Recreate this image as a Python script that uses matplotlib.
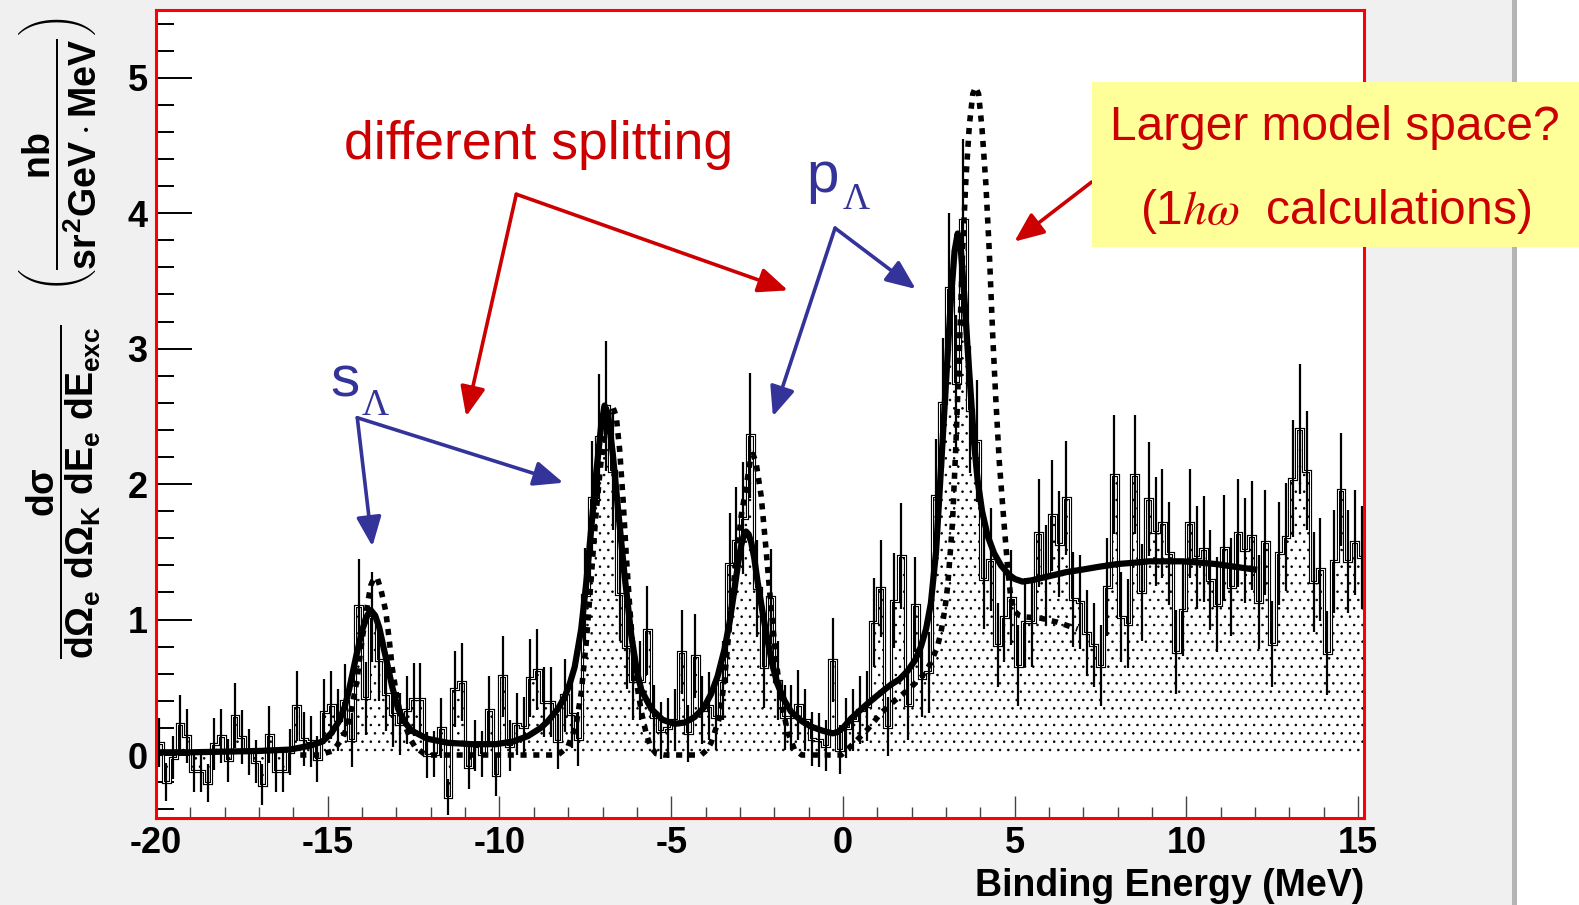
import numpy as np
import matplotlib
matplotlib.use("Agg")
import matplotlib.pyplot as plt
from matplotlib.patches import Rectangle
from matplotlib.ticker import MultipleLocator

plt.rcParams['font.family'] = ['Liberation Sans', 'DejaVu Sans']
plt.rcParams['axes.unicode_minus'] = False
plt.rcParams['mathtext.fontset'] = 'custom'
plt.rcParams['mathtext.rm'] = 'Liberation Sans:bold'
plt.rcParams['mathtext.it'] = 'Liberation Sans:bold'
plt.rcParams['mathtext.bf'] = 'Liberation Sans:bold'
plt.rcParams['hatch.color'] = 'black'
plt.rcParams['hatch.linewidth'] = 0.6

# histogram: 0.2 MeV bins starting at -20 MeV
bin_lo = -20.0
bin_width = 0.2
counts = [
    0.09, -0.20, -0.02, 0.23, 0.14, -0.12, -0.12, -0.21, 0.08, 0.14,
    -0.04, 0.29, 0.13, 0.02, -0.05, -0.22, 0.15, -0.12, -0.12, 0.02,
    0.36, 0.12, 0.10, -0.03, 0.32, 0.37, 0.26, 0.40, 0.11, 1.10,
    0.42, 1.02, 0.70, 0.45, 0.30, 0.23, 0.33, 0.41, 0.41, 0.00,
    0.01, 0.20, -0.31, 0.49, 0.54, -0.09, 0.07, 0.01, 0.33, -0.15,
    0.58, 0.07, 0.23, 0.21, 0.57, 0.63, 0.39, 0.39, 0.10, 0.44,
    0.30, 0.12, 1.18, 1.90, 2.35, 2.58, 2.10, 1.19, 0.80, 0.55,
    0.55, 0.92, 0.28, 0.18, 0.20, 0.26, 0.76, 0.16, 0.73, 0.33,
    0.36, 0.28, 0.55, 1.41, 1.58, 1.75, 2.36, 1.23, 0.65, 1.17,
    0.55, 0.28, 0.28, 0.37, 0.26, 0.12, 0.11, 0.07, 0.70, 0.04,
    0.20, 0.26, 0.33, 0.36, 0.98, 1.23, 0.21, 1.14, 1.47, 0.37,
    1.11, 0.57, 0.61, 1.91, 2.60, 3.45, 2.75, 3.95, 2.55, 2.32,
    1.30, 1.44, 0.81, 1.02, 1.16, 0.66, 0.98, 0.98, 1.64, 1.33,
    1.77, 1.56, 1.90, 1.15, 1.13, 0.90, 0.81, 0.66, 1.24, 2.07,
    1.02, 0.97, 2.07, 1.20, 1.89, 1.65, 1.71, 1.49, 0.76, 1.07,
    1.71, 1.46, 1.52, 1.29, 1.11, 1.53, 1.24, 1.64, 1.51, 1.62,
    1.13, 1.57, 0.82, 1.49, 1.61, 2.04, 2.41, 2.10, 1.28, 1.37,
    0.75, 1.43, 1.96, 1.43, 1.57, 1.46,
]
errors = [
    0.18, 0.14, 0.16, 0.21, 0.20, 0.15, 0.15, 0.14, 0.19, 0.20,
    0.16, 0.24, 0.20, 0.17, 0.16, 0.15, 0.21, 0.15, 0.15, 0.17,
    0.26, 0.20, 0.19, 0.17, 0.24, 0.25, 0.23, 0.27, 0.20, 0.35,
    0.27, 0.33, 0.30, 0.27, 0.24, 0.23, 0.25, 0.27, 0.27, 0.17,
    0.17, 0.22, 0.13, 0.28, 0.29, 0.16, 0.19, 0.17, 0.25, 0.15,
    0.30, 0.19, 0.23, 0.22, 0.29, 0.30, 0.26, 0.26, 0.20, 0.27,
    0.25, 0.20, 0.35, 0.42, 0.46, 0.48, 0.44, 0.35, 0.31, 0.29,
    0.29, 0.33, 0.24, 0.21, 0.22, 0.23, 0.31, 0.21, 0.31, 0.25,
    0.25, 0.24, 0.29, 0.38, 0.40, 0.41, 0.46, 0.36, 0.30, 0.35,
    0.29, 0.24, 0.24, 0.26, 0.23, 0.20, 0.20, 0.19, 0.31, 0.18,
    0.22, 0.23, 0.25, 0.26, 0.33, 0.36, 0.22, 0.35, 0.39, 0.26,
    0.35, 0.29, 0.30, 0.42, 0.48, 0.55, 0.50, 0.60, 0.47, 0.45,
    0.37, 0.38, 0.31, 0.33, 0.35, 0.30, 0.33, 0.33, 0.40, 0.37,
    0.41, 0.39, 0.42, 0.35, 0.35, 0.32, 0.31, 0.30, 0.36, 0.44,
    0.33, 0.33, 0.44, 0.36, 0.42, 0.40, 0.40, 0.38, 0.31, 0.34,
    0.40, 0.38, 0.39, 0.37, 0.35, 0.39, 0.36, 0.40, 0.39, 0.40,
    0.35, 0.39, 0.32, 0.38, 0.40, 0.43, 0.48, 0.44, 0.37, 0.38,
    0.31, 0.38, 0.42, 0.38, 0.39, 0.38,
]

# fitted curve (solid)
fit_e = [-20, -19, -18, -17, -16.1, -15.5, -15.15, -14.9, -14.67, -14.5,
         -14.38, -14.18, -14.0, -13.85, -13.75, -13.62, -13.5, -13.31, -13.12, -12.95,
         -12.75, -12.56, -12.1, -11.5, -10.8, -10.1, -9.6, -9.17, -8.8, -8.59,
         -8.3, -8.1, -7.95, -7.81, -7.62, -7.47, -7.33, -7.18, -7.04, -6.94,
         -6.84, -6.7, -6.55, -6.36, -6.16, -6.0, -5.87, -5.58, -5.25, -4.9,
         -4.6, -4.32, -4.05, -3.84, -3.65, -3.45, -3.3, -3.16, -3.05, -2.96,
         -2.88, -2.82, -2.75, -2.67, -2.58, -2.48, -2.33, -2.19, -2.05, -1.9,
         -1.7, -1.51, -1.2, -0.93, -0.6, -0.3, -0.15, 0.0, 0.24, 0.5,
         0.72, 0.91, 1.2, 1.4, 1.65, 1.88, 2.1, 2.27, 2.42, 2.56,
         2.71, 2.85, 3.0, 3.14, 3.25, 3.34, 3.43, 3.53, 3.63, 3.73,
         3.82, 3.92, 4.05, 4.21, 4.4, 4.6, 4.84, 5.0, 5.23, 5.5,
         6.0, 6.5, 7.0, 7.46, 8.0, 8.5, 8.91, 9.4, 9.88, 10.4,
         10.85, 11.4, 11.97]
fit_y = [0.02, 0.02, 0.025, 0.03, 0.04, 0.07, 0.10, 0.16, 0.25, 0.36,
         0.48, 0.72, 0.92, 1.03, 1.07, 1.03, 0.94, 0.72, 0.50, 0.34,
         0.24, 0.18, 0.12, 0.09, 0.08, 0.08, 0.10, 0.14, 0.20, 0.25,
         0.34, 0.43, 0.53, 0.65, 0.93, 1.28, 1.67, 2.09, 2.43, 2.58,
         2.52, 2.22, 1.82, 1.33, 0.88, 0.62, 0.48, 0.34, 0.26, 0.23,
         0.24, 0.28, 0.35, 0.45, 0.58, 0.78, 0.98, 1.22, 1.42, 1.55,
         1.63, 1.65, 1.63, 1.57, 1.45, 1.27, 1.04, 0.84, 0.66, 0.52,
         0.40, 0.32, 0.25, 0.21, 0.18, 0.16, 0.17, 0.20, 0.27, 0.33,
         0.38, 0.42, 0.48, 0.52, 0.56, 0.62, 0.70, 0.80, 0.93, 1.12,
         1.50, 2.10, 2.75, 3.35, 3.72, 3.85, 3.74, 3.40, 3.00, 2.63,
         2.30, 2.03, 1.80, 1.62, 1.49, 1.40, 1.33, 1.30, 1.28, 1.29,
         1.32, 1.35, 1.37, 1.39, 1.41, 1.42, 1.43, 1.43, 1.43, 1.42,
         1.41, 1.39, 1.37]

# 1hw calculation (dashed)
calc_e = [-15.8, -15.25, -14.86, -14.57, -14.42, -14.3, -14.15, -14.0, -13.85, -13.75,
          -13.65, -13.55, -13.45, -13.31, -13.21, -13.12, -13.0, -12.9, -12.75, -12.6,
          -12.46, -12.2, -12.0, -8.3, -8.01, -7.77, -7.62, -7.47, -7.33, -7.2,
          -7.05, -6.94, -6.82, -6.7, -6.6, -6.5, -6.4, -6.31, -6.21, -6.12,
          -6.02, -5.87, -5.73, -5.6, -5.44, -5.2, -4.13, -3.95, -3.84, -3.6,
          -3.45, -3.35, -3.16, -2.96, -2.82, -2.7, -2.62, -2.53, -2.38, -2.24,
          -2.09, -1.95, -1.8, -1.61, -1.41, -1.2, -0.05, 0.33, 0.72, 1.11,
          1.5, 1.98, 2.3, 2.56, 2.75, 2.85, 2.97, 3.05, 3.12, 3.19,
          3.29, 3.39, 3.48, 3.58, 3.68, 3.78, 3.86, 3.95, 4.05, 4.16,
          4.26, 4.36, 4.45, 4.55, 4.69, 4.79, 4.89, 5.0, 5.14, 5.28,
          5.76, 6.25, 6.83]
calc_y = [0.0, 0.0, 0.03, 0.12, 0.22, 0.35, 0.55, 0.85, 1.10, 1.25,
          1.31, 1.30, 1.22, 1.06, 0.85, 0.64, 0.45, 0.32, 0.22, 0.12,
          0.06, 0.01, 0.0, 0.0, 0.06, 0.22, 0.46, 0.84, 1.30, 1.75,
          2.15, 2.36, 2.52, 2.57, 2.50, 2.25, 1.88, 1.48, 1.10, 0.80,
          0.55, 0.32, 0.16, 0.06, 0.01, 0.0, 0.0, 0.04, 0.09, 0.27,
          0.55, 0.83, 1.32, 1.77, 1.98, 2.17, 2.22, 2.16, 1.91, 1.52,
          1.08, 0.71, 0.40, 0.17, 0.04, 0.0, 0.0, 0.09, 0.19, 0.31,
          0.40, 0.50, 0.58, 0.68, 0.80, 0.90, 1.08, 1.25, 1.48, 1.72,
          2.30, 3.00, 3.70, 4.25, 4.65, 4.88, 4.93, 4.88, 4.62, 4.22,
          3.72, 3.10, 2.63, 2.17, 1.71, 1.40, 1.15, 1.06, 1.03, 1.02,
          1.01, 0.98, 0.93]

x_ticks = [-20, -15, -10, -5, 0, 5, 10, 15]
y_ticks = [0, 1, 2, 3, 4, 5]

RED = '#cc0000'
BLUE = '#333399'
W, H = 1579, 905


def fx(px):
    return px / W


def fy(py):
    return 1 - py / H


fig = plt.figure(figsize=(W / 100, H / 100), dpi=100, facecolor='#f0f0f0')
# white strip on the far right with a grey separator
fig.patches.append(Rectangle((fx(1517), 0), fx(W - 1517), 1, transform=fig.transFigure,
                             facecolor='white', edgecolor='none', zorder=0))
fig.patches.append(Rectangle((fx(1512), 0), fx(5), 1, transform=fig.transFigure,
                             facecolor='#b4b4b4', edgecolor='none', zorder=0))

ax = fig.add_axes([fx(156), fy(818), fx(1364 - 156), (818 - 10) / H])
ax.set_facecolor('white')

vals = np.array(counts)
errs = np.array(errors)
edges = bin_lo + bin_width * np.arange(len(vals) + 1)
centers = 0.5 * (edges[:-1] + edges[1:])

ax.stairs(vals, edges, baseline=0, fill=True, hatch='..', facecolor='white',
          edgecolor='black', linewidth=0, zorder=1)
ax.stairs(vals, edges, baseline=None, color='black', linewidth=2.3, zorder=2)
ax.stairs(vals, edges, baseline=None, color='white', linewidth=0.7, zorder=2.1)
ax.vlines(centers, vals - errs, vals + errs, color='black', linewidth=1.6, zorder=3)

ax.plot(fit_e, fit_y, color='black', linewidth=4.5, solid_joinstyle='round', zorder=4)
ax.plot(calc_e, calc_y, color='black', linewidth=4.0, linestyle=(0, (1.1, 1.2)),
        dash_capstyle='butt', zorder=5)

ax.set_xlim(-20, 15.17)
ax.set_ylim(-0.465, 5.5)
ax.set_xticks(x_ticks)
ax.set_xticklabels([str(t) for t in x_ticks])
ax.set_yticks(y_ticks)
ax.xaxis.set_minor_locator(MultipleLocator(1))
ax.yaxis.set_minor_locator(MultipleLocator(0.2))
ax.tick_params(axis='x', which='major', direction='in', length=16, width=1.0,
               color='#444444', labelsize=26, pad=6, top=False)
ax.tick_params(axis='x', which='minor', direction='in', length=8, width=1.0,
               color='#444444', top=False)
ax.tick_params(axis='y', which='major', direction='in', length=26, width=1.4,
               color='black', labelsize=26, pad=6, right=False)
ax.tick_params(axis='y', which='minor', direction='in', length=13, width=1.4,
               color='black', right=False)
for lab in ax.get_xticklabels() + ax.get_yticklabels():
    lab.set_fontweight('bold')

for side in ['left', 'right', 'top', 'bottom']:
    ax.spines[side].set_color('#ff0000')
    ax.spines[side].set_linewidth(2.2)
    ax.spines[side].set_zorder(6)

fig.text(fx(1364), fy(886), 'Binding Energy (MeV)', ha='right', va='center',
         fontsize=27, fontweight='bold')

# y axis title
fig.text(fx(64), fy(492), r'$\dfrac{d\sigma}{d\Omega_e\ d\Omega_K\ dE_e\ dE_{exc}}$',
         rotation=90, ha='center', va='center', fontsize=27)
fig.text(fx(58), fy(155), r'$\left(\dfrac{nb}{sr^2GeV\cdot MeV}\right)$',
         rotation=90, ha='center', va='center', fontsize=27)

# annotations
arrow_kw = dict(arrowstyle='-|>,head_length=0.9,head_width=0.38', lw=2.6,
                shrinkA=0, shrinkB=0, mutation_scale=20)
ax.text(-8.87, 4.50, 'different splitting', color=RED, fontsize=38.5,
        ha='center', va='center')
for end in [(-10.97, 2.50), (-1.60, 3.43)]:
    ax.annotate('', xy=end, xytext=(-9.51, 4.14),
                arrowprops=dict(color=RED, **arrow_kw))

ax.text(-14.92, 2.65, 's', color=BLUE, fontsize=42, ha='left', va='baseline')
ax.text(-14.0, 2.51, 'Λ', color=BLUE, fontsize=27, ha='left', va='baseline',
        family='Liberation Serif')
for end in [(-13.70, 1.54), (-8.14, 2.01)]:
    ax.annotate('', xy=end, xytext=(-14.14, 2.49),
                arrowprops=dict(color=BLUE, **arrow_kw))

ax.text(-1.07, 4.16, 'p', color=BLUE, fontsize=42, ha='left', va='baseline')
ax.text(-0.02, 4.03, 'Λ', color=BLUE, fontsize=27, ha='left', va='baseline',
        family='Liberation Serif')
for end in [(-2.04, 2.50), (2.12, 3.44)]:
    ax.annotate('', xy=end, xytext=(-0.23, 3.89),
                arrowprops=dict(color=BLUE, **arrow_kw))

ax.annotate('', xy=(4.99, 3.79), xytext=(7.24, 4.23),
            arrowprops=dict(color=RED, **arrow_kw))

# yellow note box, running off the right edge
fig.patches.append(Rectangle((fx(1092), fy(246.6)), fx(W - 1092), (246.6 - 82.5) / H,
                             transform=fig.transFigure, facecolor='#ffff99',
                             edgecolor='none', zorder=10))
fig.text(fx(1335), fy(127), 'Larger model space?', color=RED, fontsize=34.5,
         ha='center', va='center', zorder=11)
fig.text(fx(1336), fy(212), r'(1$h\omega$  calculations)', color=RED, fontsize=34.5,
         ha='center', va='center', math_fontfamily='stix', zorder=11)

fig.savefig('out.png', dpi=100, facecolor=fig.get_facecolor())
